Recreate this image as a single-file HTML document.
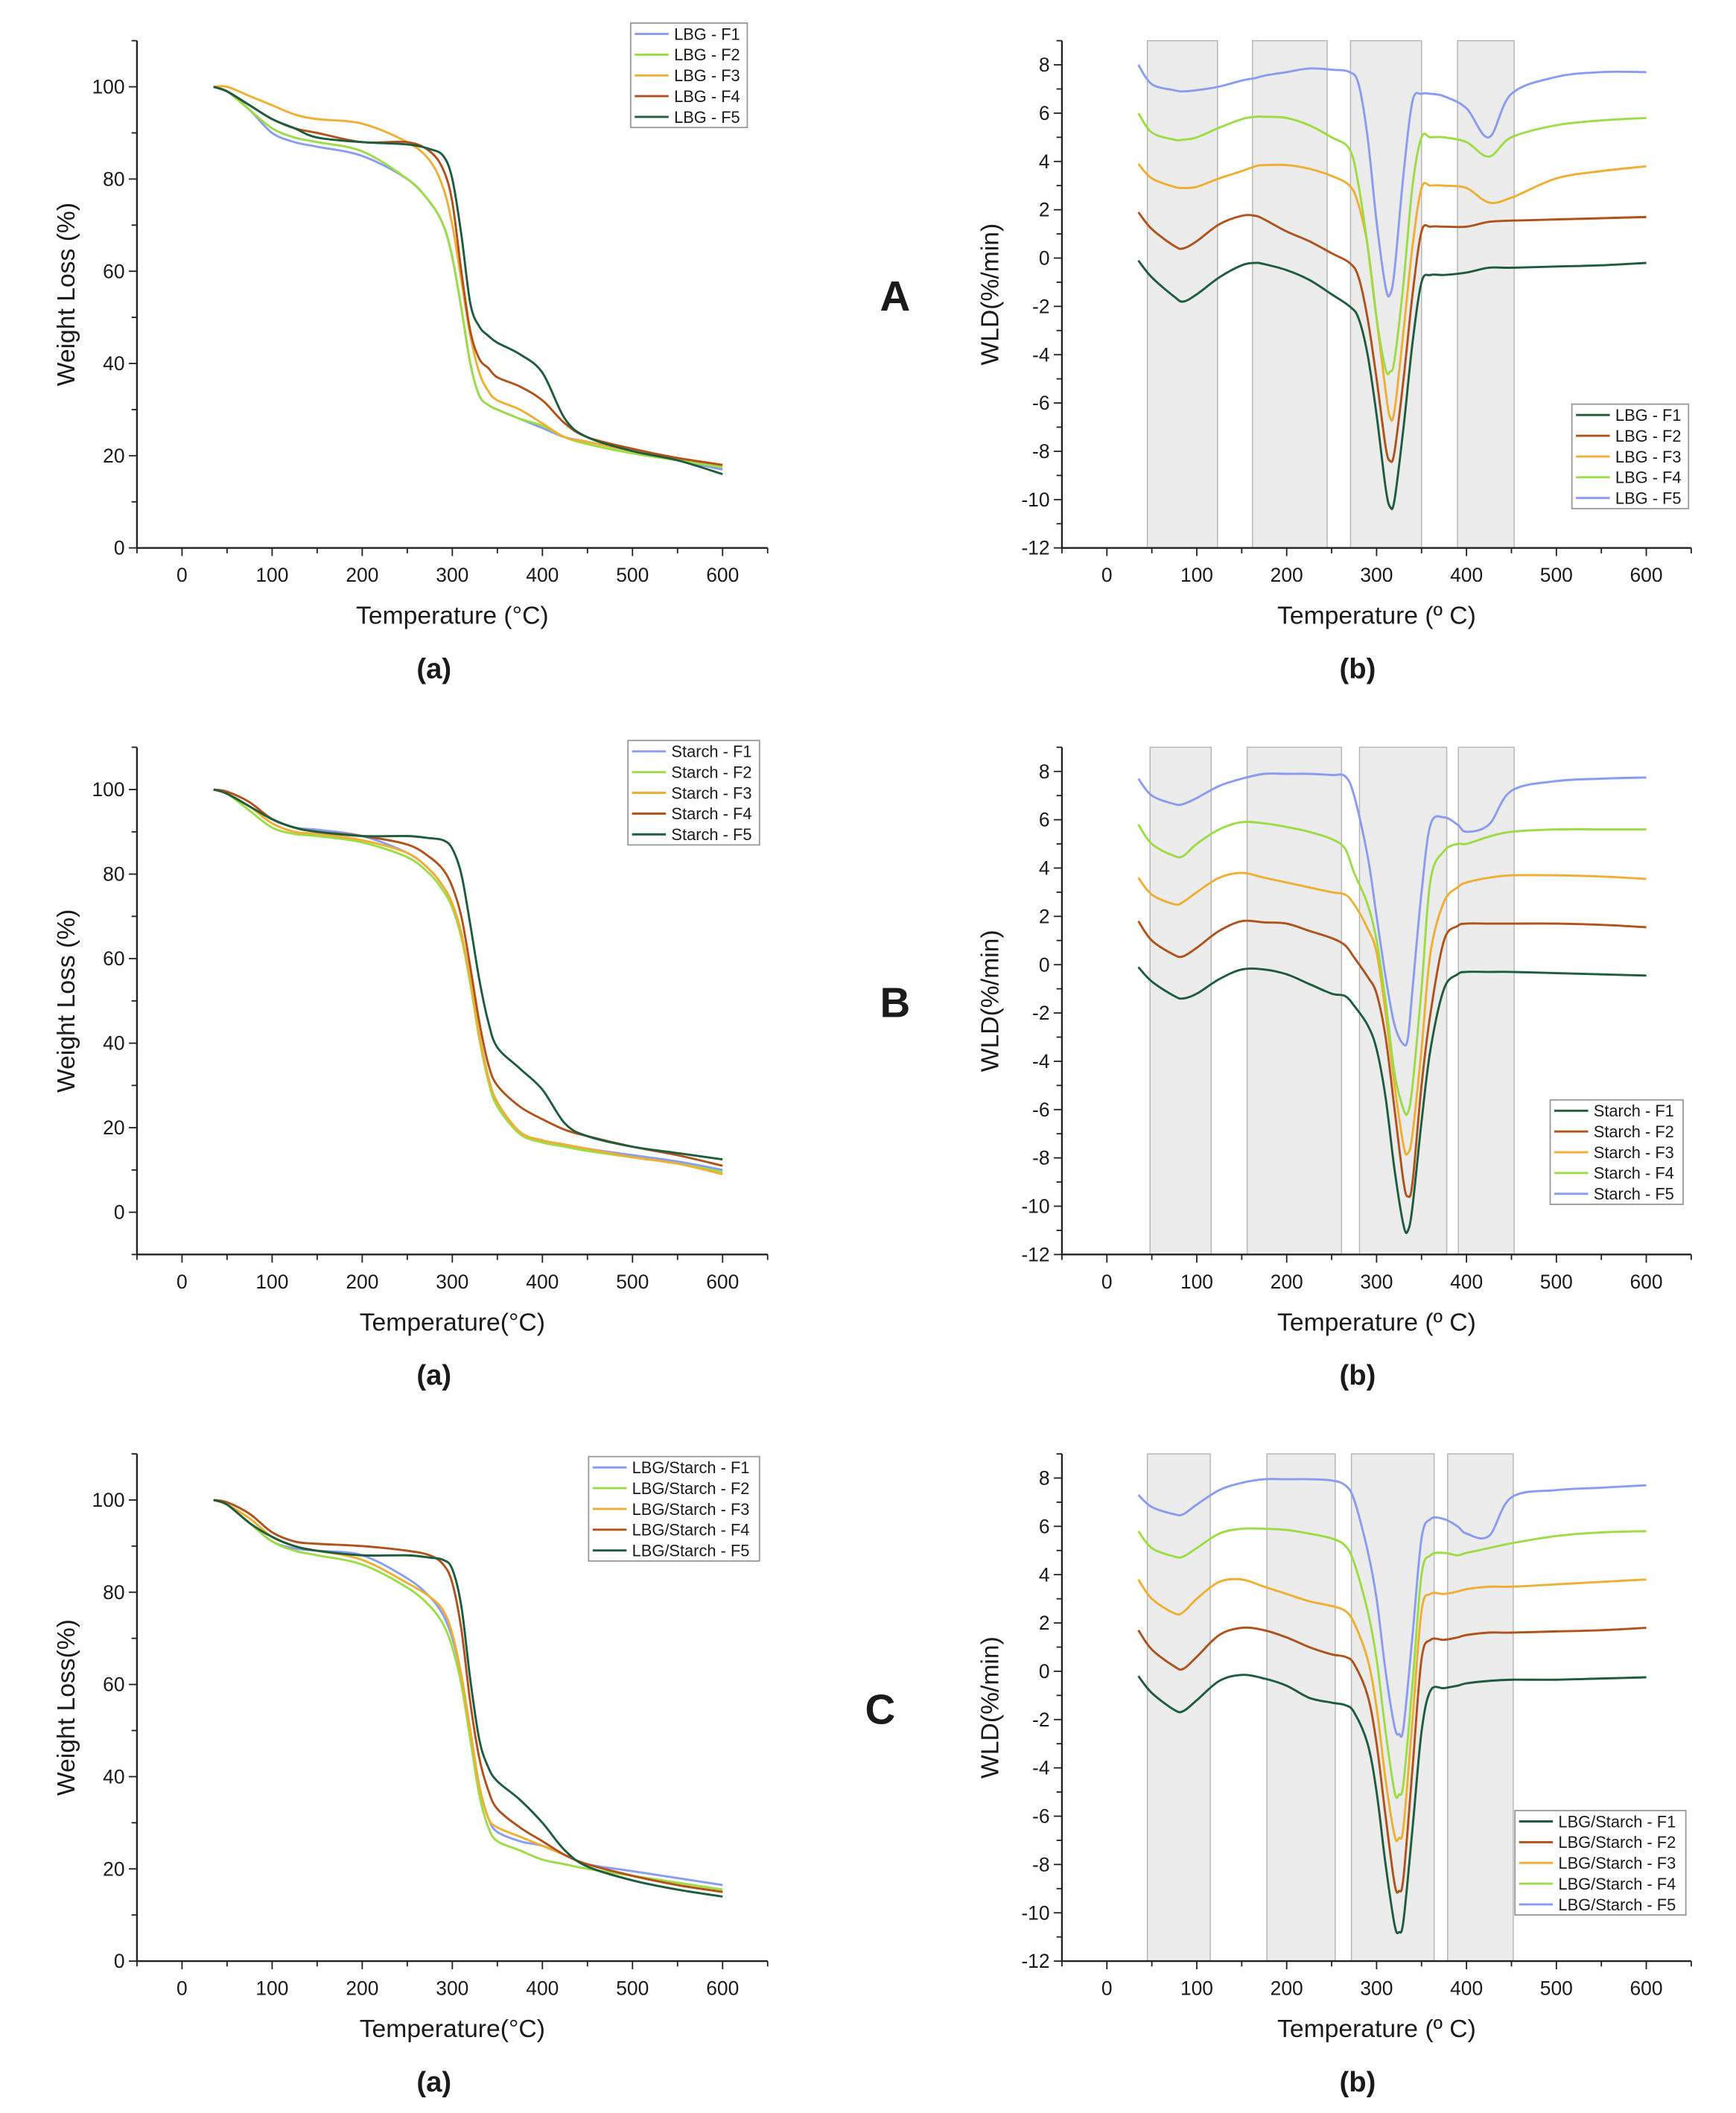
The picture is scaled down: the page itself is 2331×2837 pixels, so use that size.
<!DOCTYPE html>
<html><head><meta charset="utf-8"><style>
html,body{margin:0;padding:0;background:#fff}
svg{display:block}
text{font-family:"Liberation Sans",sans-serif;fill:#1a1a1a}
</style></head><body>
<svg id="fig" width="2331" height="2837" viewBox="0 0 1280 1558" preserveAspectRatio="none" xmlns="http://www.w3.org/2000/svg"></svg>
<script>
// ---- data ----
const tgTemps=[35,50,75,100,125,150,200,250,275,290,300,310,320,330,340,350,375,400,425,450,500,550,600];
const aTG_F1=[100,99,95,90,88,87,85,80,75,70,63,52,40,33,31,30,28,26,24,23,21,19,17];
const aTG_F2=[100,99,95,91,89,88,86,80,75,70,63,52,40,33,31,30,28,26.5,24,22.5,20.5,19,17.5];
const aTG_F3=[100,100,98,96,94,93,92,88,84,78,70,58,46,38,34,32,30,27,24,23,21,19.5,18];
const aTG_F4=[100,99,96,93,91,90,88,88,86,82,75,60,47,41,39,37,35,32,27,24,21.5,19.5,18];
const aTG_F5=[100,99,96,93,91,89,88,87.5,86.5,85,80,68,53,48,46,44.5,42,38,28,24,21,19,16];
const aDTGTemps=[35,50,75,85,100,125,150,165,175,200,225,250,270,280,290,300,310,315,320,330,340,350,360,375,400,425,450,500,550,600];
const aDTG_F1=[-0.1,-0.8,-1.6,-1.8,-1.5,-0.8,-0.3,-0.2,-0.25,-0.5,-0.9,-1.5,-2,-2.5,-4,-6.5,-9.5,-10.3,-10,-7,-3.5,-1,-0.7,-0.7,-0.6,-0.4,-0.4,-0.35,-0.3,-0.2];
const aDTG_F2=[1.9,1.2,0.5,0.4,0.7,1.4,1.75,1.75,1.6,1.1,0.7,0.2,-0.2,-0.8,-2.5,-5,-7.8,-8.4,-8,-5,-1.5,1.1,1.3,1.3,1.3,1.5,1.55,1.6,1.65,1.7];
const aDTG_F3=[3.9,3.3,2.95,2.9,2.95,3.3,3.6,3.8,3.85,3.85,3.7,3.4,3,2.2,0.5,-2.5,-5.5,-6.6,-6.3,-3,0.5,2.9,3,3,2.9,2.3,2.5,3.3,3.6,3.8];
const aDTG_F4=[6,5.2,4.9,4.9,5,5.4,5.75,5.85,5.85,5.8,5.5,5,4.5,3,0.5,-2.5,-4.6,-4.7,-4.2,-1,3,5,5,5,4.8,4.2,5,5.5,5.7,5.8];
const aDTG_F5=[8,7.2,6.95,6.9,6.95,7.1,7.35,7.45,7.55,7.7,7.85,7.8,7.7,7.2,5,1.5,-1.2,-1.5,-0.5,3.5,6.5,6.8,6.8,6.7,6.2,5,6.8,7.5,7.7,7.7];
const aBands=[[45,123],[162,245],[271,350],[390,453]];

const bTG_F1=[100,99,96,93,91,90.5,89,85,81,77,73,66,55,42,32,26,19,17,16,15,13.5,12,10];
const bTG_F2=[100,99,95,91,89.5,89,87.5,84,80,76,72,65,54,41,31,25,18.5,16.5,15.5,14.5,13,11.5,9.5];
const bTG_F3=[100,99,96,92,90,89.5,88,85,81,77,73,66,55,42,32,26,19,17,16,15,13,11.5,9];
const bTG_F4=[100,99.5,97,93,91,90,89,87,84,81,77,70,58,45,35,30,25,22,19.5,18,15.5,13.5,11];
const bTG_F5=[100,99,96,93,91,90,89,89,88.5,88,86,80,68,55,45,39,34,29,21,18,15.5,14,12.5];
const bDTGTemps=[35,50,75,85,100,125,150,175,200,225,250,265,275,290,300,310,320,330,335,340,350,360,375,390,400,425,450,500,550,600];
const bDTG_F1=[-0.1,-0.7,-1.3,-1.4,-1.2,-0.6,-0.2,-0.2,-0.4,-0.8,-1.2,-1.3,-1.7,-2.5,-3.5,-5.5,-8.5,-10.8,-11,-10,-6.5,-3.5,-1,-0.4,-0.3,-0.3,-0.3,-0.35,-0.4,-0.45];
const bDTG_F2=[1.8,1,0.4,0.35,0.7,1.4,1.8,1.75,1.7,1.4,1.1,0.8,0.3,-0.5,-1.2,-3,-6,-9,-9.6,-9,-5,-2,1,1.6,1.7,1.7,1.7,1.7,1.65,1.55];
const bDTG_F3=[3.6,2.9,2.5,2.6,3.0,3.6,3.8,3.6,3.4,3.2,3.0,2.9,2.5,1.5,0.5,-2,-5,-7.5,-7.8,-7,-3.5,0.5,2.6,3.2,3.4,3.6,3.7,3.7,3.65,3.55];
const bDTG_F4=[5.8,5,4.5,4.5,5,5.6,5.9,5.85,5.7,5.5,5.2,4.8,3.8,2.5,1,-1.5,-4.5,-6,-6.1,-5,-1,3.5,4.7,5,5,5.3,5.5,5.6,5.6,5.6];
const bDTG_F5=[7.7,7,6.65,6.65,6.9,7.4,7.7,7.9,7.9,7.9,7.85,7.8,7,4.5,2,-0.5,-2.5,-3.3,-3,-1,3,5.8,6.1,5.8,5.5,5.8,7.2,7.6,7.7,7.75];
const bBands=[[48,116],[156,261],[281,378],[391,453]];

const cTG_F1=[100,99,95,91,89.5,89,88,83,79,75,70,62,50,38,31,28,26,25,23,21,19.5,18,16.5];
const cTG_F2=[100,99,95,91,89,88,86,81,77,73,68,60,48,36,29,26,24,22,21,20,18.5,17,15.5];
const cTG_F3=[100,99,96,92,90,89,87,82,79,76,71,62,50,38,31,29,27,25,23,21,18.5,16.5,15];
const cTG_F4=[100,99.5,97,93,91,90.5,90,89,88,86,82,72,56,44,37,33,29,26,23,21,18.5,16.5,15];
const cTG_F5=[100,99,95,92,90,89,88,88,87.5,87,85,77,61,48,42,39,35,30,24,20.5,17.5,15.5,14];
const cDTGTemps=[35,50,75,85,100,125,150,175,200,225,250,265,275,290,300,310,320,325,330,340,350,360,375,390,400,425,450,500,550,600];
const cDTG_F1=[-0.2,-0.9,-1.6,-1.65,-1.2,-0.4,-0.15,-0.3,-0.6,-1.1,-1.3,-1.4,-1.7,-3,-5,-8,-10.5,-10.8,-10.3,-6.5,-2.5,-0.8,-0.7,-0.6,-0.5,-0.4,-0.35,-0.35,-0.3,-0.25];
const cDTG_F2=[1.7,0.9,0.2,0.1,0.6,1.5,1.8,1.7,1.4,1.0,0.7,0.6,0.3,-1,-3,-6,-8.8,-9.1,-8.5,-4,0.5,1.3,1.3,1.4,1.5,1.6,1.6,1.65,1.7,1.8];
const cDTG_F3=[3.8,3.0,2.4,2.45,3.0,3.7,3.8,3.5,3.2,2.9,2.7,2.5,2.0,0.5,-1.5,-4.5,-6.8,-6.9,-6.4,-2,2.5,3.2,3.2,3.3,3.4,3.5,3.5,3.6,3.7,3.8];
const cDTG_F4=[5.8,5.1,4.75,4.75,5.1,5.7,5.9,5.9,5.85,5.7,5.5,5.2,4.5,2.5,0.5,-2.5,-5,-5.1,-4.6,-0.5,4,4.8,4.9,4.8,4.9,5.1,5.3,5.6,5.75,5.8];
const cDTG_F5=[7.3,6.8,6.5,6.5,6.9,7.5,7.8,7.95,7.95,7.95,7.9,7.7,7.1,5,3,0,-2.3,-2.6,-2.3,1.5,5.5,6.3,6.3,6.0,5.7,5.6,7.2,7.5,7.6,7.7];
const cBands=[[45,115],[178,254],[272,364],[379,452]];

const xTicks=[0,100,200,300,400,500,600];
const tgYTicks=[0,20,40,60,80,100];
const dtgYTicks=[-12,-10,-8,-6,-4,-2,0,2,4,6,8];
const seriesNames=["F1","F2","F3","F4","F5"];

const tgColors=["#8a9cf2","#9cdd45","#efaf32","#b0521c","#1d5c3c"];
const dtgColors=["#1d5c3c","#b0521c","#efaf32","#9cdd45","#8a9cf2"];

const NS="http://www.w3.org/2000/svg";
const svg=document.getElementById('fig');
function mk(tag,attrs,parent){const e=document.createElementNS(NS,tag);for(const k in attrs)e.setAttribute(k,attrs[k]);(parent||svg).appendChild(e);return e;}
function smooth(pts){let d=`M${pts[0][0].toFixed(2)},${pts[0][1].toFixed(2)}`;
 for(let i=0;i<pts.length-1;i++){const p0=pts[i-1]||pts[i],p1=pts[i],p2=pts[i+1],p3=pts[i+2]||p2;
  const c1=[p1[0]+(p2[0]-p0[0])/6,p1[1]+(p2[1]-p0[1])/6],c2=[p2[0]-(p3[0]-p1[0])/6,p2[1]-(p3[1]-p1[1])/6];
  d+=`C${c1[0].toFixed(2)},${c1[1].toFixed(2)} ${c2[0].toFixed(2)},${c2[1].toFixed(2)} ${p2[0].toFixed(2)},${p2[1].toFixed(2)}`;}
 return d;}

function panel(o){
 const g=mk('g',{});
 
 
 const X0=o.x0,X1=o.x1,Y0=o.y0,Y1=o.y1;
 const sx=v=>X0+(v-(-50))/(700)*(X1-X0);
 const sy=v=>Y1-(v-o.ymin)/(o.ymax-o.ymin)*(Y1-Y0);
 if(o.bands){o.bands.forEach((b,i)=>{const r=mk('rect',{x:sx(b[0]),y:Y0,width:sx(b[1])-sx(b[0]),height:Y1-Y0,fill:'#ececec',stroke:'#b5b5b5','stroke-width':0.8},g);
   
   });}
 // axes
 const ax=mk('path',{d:`M${X0},${Y0}V${Y1}H${X1}`,stroke:'#222',fill:'none','stroke-width':1.3},g);
 
 
 for(let v=-50;v<=650;v+=50){const major=v%100===0;mk('line',{x1:sx(v),x2:sx(v),y1:Y1,y2:Y1+(major?6:4),stroke:'#222','stroke-width':1},g);}
 xTicks.forEach(v=>{const t=mk('text',{x:sx(v),y:Y1+25,'text-anchor':'middle','font-size':14.5},g);t.textContent=v;
  
  });
 const step=o.yTicks[1]-o.yTicks[0];
 for(let v=o.ymin;v<=o.ymax+1e-9;v+=step/2){const major=o.yTicks.some(t=>Math.abs(t-v)<1e-9);mk('line',{x1:X0,x2:X0-(major?6:4),y1:sy(v),y2:sy(v),stroke:'#222','stroke-width':1},g);}
 o.yTicks.forEach(v=>{const t=mk('text',{x:X0-9,y:sy(v)+5,'text-anchor':'end','font-size':14.5},g);t.textContent=v;
  
  });
 const xt=mk('text',{x:(sx(0)+sx(600))/2,y:Y1+56,'text-anchor':'middle','font-size':18.5},g);xt.textContent=o.xtitle;
 
 
 const yc=(Y0+Y1)/2+(o.ytOff||0);
 const yt=mk('text',{x:o.ytx,y:yc,'text-anchor':'middle','font-size':18.5,transform:`rotate(-90 ${o.ytx} ${yc})`},g);yt.textContent=o.ytitle;
 
 
 // series
 o.series.forEach((s,i)=>{const pts=o.temps.map((t,j)=>[sx(t),sy(s[j])]);
  const p=mk('path',{d:smooth(pts),fill:'none',stroke:o.colors[i],'stroke-width':1.6},g);
  
  });
 // legend
 const L=o.leg;const lg=mk('g',{},g);
 
 
 mk('rect',{x:L.x,y:L.y,width:L.w,height:77,fill:'#fff',stroke:'#999','stroke-width':1},lg);
 seriesNames.forEach((n,i)=>{const yy=L.y+8+i*15.3;
  mk('line',{x1:L.x+3,x2:L.x+28,y1:yy,y2:yy,stroke:o.colors[i],'stroke-width':1.6},lg);
  const t=mk('text',{x:L.x+32,y:yy+4.3,'font-size':12},lg);t.textContent=o.prefix+' - '+n;
  
  });
 // sub-label
 const sl=mk('text',{x:o.subx,y:Y1+96,'text-anchor':'middle','font-size':21,'font-weight':'bold'},g);sl.textContent=o.sub;
 
 
}

const rows=[
 {y0:30,y1:404,tgmin:0,tg:[aTG_F1,aTG_F2,aTG_F3,aTG_F4,aTG_F5],dt:aDTGTemps,dtg:[aDTG_F1,aDTG_F2,aDTG_F3,aDTG_F4,aDTG_F5],bands:aBands,prefix:'LBG',legA:{x:465,y:17,w:86},legB:{x:1159,y:298,w:86},letter:'A',lx:660,tgTitle:'Temperature (°C)',tgY:'Weight Loss (%)'},
 {y0:551,y1:925,tgmin:-10,tg:[bTG_F1,bTG_F2,bTG_F3,bTG_F4,bTG_F5],dt:bDTGTemps,dtg:[bDTG_F1,bDTG_F2,bDTG_F3,bDTG_F4,bDTG_F5],bands:bBands,prefix:'Starch',legA:{x:463,y:546,w:97},legB:{x:1143,y:811,w:98},letter:'B',lx:660,tgTitle:'Temperature(°C)',tgY:'Weight Loss (%)'},
 {y0:1072,y1:1446,tgmin:0,tg:[cTG_F1,cTG_F2,cTG_F3,cTG_F4,cTG_F5],dt:cDTGTemps,dtg:[cDTG_F1,cDTG_F2,cDTG_F3,cDTG_F4,cDTG_F5],bands:cBands,prefix:'LBG/Starch',legA:{x:434,y:1074,w:126},legB:{x:1117,y:1335,w:126},letter:'C',lx:649,tgTitle:'Temperature(°C)',tgY:'Weight Loss(%)'}
];
rows.forEach((r,k)=>{
 panel({name:'tg-chart-'+r.letter.toLowerCase(),x0:101,x1:566,y0:r.y0,y1:r.y1,ymin:r.tgmin,ymax:110,yTicks:tgYTicks,temps:tgTemps,series:r.tg,colors:tgColors,prefix:r.prefix,leg:r.legA,xtitle:r.tgTitle,ytitle:r.tgY,ytx:55,sub:'(a)',subx:320});
 panel({name:'dtg-chart-'+r.letter.toLowerCase(),x0:783,x1:1247,y0:r.y0,y1:r.y1,ymin:-12,ymax:9,yTicks:dtgYTicks,temps:r.dt,series:r.dtg,colors:dtgColors,prefix:r.prefix,leg:r.legB,bands:r.bands,xtitle:'Temperature (º C)',ytitle:'WLD(%/min)',ytx:736,sub:'(b)',subx:1001});
 const L=mk('text',{x:r.lx,y:(r.y0+r.y1)/2+12,'text-anchor':'middle','font-size':31,'font-weight':'bold'});L.textContent=r.letter;
 
 
});
</script>
</body></html>
